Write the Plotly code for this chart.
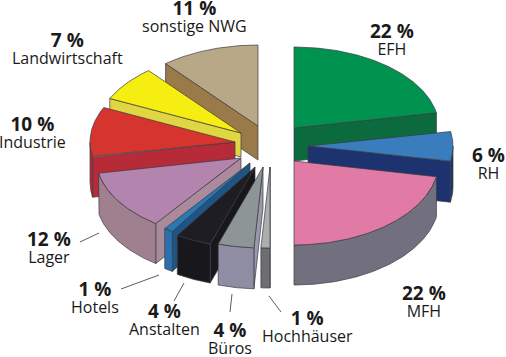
import numpy as np
import plotly.graph_objects as go

# Data
categories = ["EFH", "RH", "MFH", "Hochhäuser", "Büros", "Anstalten", "Hotels",
              "Lager", "Industrie", "Landwirtschaft", "sonstige NWG"]
shares = [22, 6, 22, 1, 4, 4, 1, 12, 10, 7, 11]

# Exploded-pie geometry (wedge tips on the axes, perspective radii, extrusion)
tip_x = [294, 308, 294, 270, 263, 255, 250, 241, 235, 241, 258]
tip_y = [128, 146, 161, 167, 167, 167, 163, 158, 142, 133, 126]
radius_y = [81, 81, 84, 81, 81, 81, 81, 81, 81, 81, 81]
depth = [33, 41, 40, 40, 41, 39, 40, 40, 40, 24, 34]
RADIUS_X = 145

# Colours
top_col = ["#00934f", "#3a7dbd", "#e27aa6", "#a9aeae", "#8e9597", "#1d1d23", "#2c77b6",
           "#b284ae", "#d5342f", "#f5ee10", "#b9a888"]
arc_col = ["#0c6b3e", "#1c3370", "#72707f", "#6e6e70", "#8f8da3", "#17171c", "#2a70ae",
           "#a0808f", "#b72b38", "#e0d642", "#9a7a48"]
face_col = ["#0c6b3e", "#1c3370", "#72707f", "#6e6e70", "#9a98ad", "#17171c", "#1d5585",
            "#ab8a9b", "#b72b38", "#e0d642", "#9a7a48"]
EDGE = "#3a3a40"

# Label block centres (x, y)
label_pos = [(392, 39), (488, 163), (424, 301), (307, 326), (230, 338), (164, 319),
             (95, 297), (49, 247), (32, 132), (67, 48), (194, 16)]
leaders = [(80, 242, 99, 233), (121, 289, 159, 275), (174, 301, 184, 283),
           (230, 312, 232, 294), (281, 312, 269, 296)]

ends = np.cumsum(shares) / sum(shares) * 360
starts = np.concatenate([[0], ends[:-1]])


def arc(i, a0, a1):
    t = np.radians(np.linspace(a0, a1, max(int(abs(a1 - a0) * 2), 2)))
    return tip_x[i] + RADIUS_X * np.sin(t), tip_y[i] - radius_y[i] * np.cos(t)


def poly(fig, x, y, col):
    fig.add_trace(go.Scatter(x=np.r_[x, x[0]], y=np.r_[y, y[0]], mode="lines", fill="toself",
                             fillcolor=col, line=dict(color=EDGE, width=0.7),
                             hoverinfo="skip", showlegend=False))


fig = go.Figure()
for i in [0, 1, 2, 10, 9, 8, 7, 6, 5, 4, 3]:
    a0, a1 = starts[i], ends[i]
    d = depth[i]
    # visible radial cut face
    ang = a1 if a1 < 180 else (a0 if a0 >= 180 else None)
    if ang is not None and a1 != 180:
        x, y = arc(i, ang, ang)
        ox, oy = x[0], y[0]
        poly(fig, np.array([tip_x[i], ox, ox, tip_x[i]]),
             np.array([tip_y[i], oy, oy + d, tip_y[i] + d]), face_col[i])
    # visible outer wall
    b0, b1 = max(a0, 90), min(a1, 270)
    if b1 > b0:
        x, y = arc(i, b0, b1)
        poly(fig, np.r_[x, x[::-1]], np.r_[y, y[::-1] + d], arc_col[i])
    # top face
    x, y = arc(i, a0, a1)
    poly(fig, np.r_[tip_x[i], x], np.r_[tip_y[i], y], top_col[i])

for x0, y0, x1, y1 in leaders:
    fig.add_trace(go.Scatter(x=[x0, x1], y=[y0, y1], mode="lines",
                             line=dict(color="#333333", width=0.8),
                             hoverinfo="skip", showlegend=False))

FONT = "Open Sans"
for i, (px, py) in enumerate(label_pos):
    fig.add_annotation(x=px, y=py, showarrow=False, align="center",
                       text=(f'<span style="font-size:19px"><b>{shares[i]} %</b></span><br>'
                             f'<span style="font-size:16px">{categories[i]}</span>'),
                       font=dict(family=FONT, size=13, color="#1a1a1a"))

fig.update_xaxes(range=[0, 506], visible=False, fixedrange=True)
fig.update_yaxes(range=[357, 0], visible=False, fixedrange=True)
fig.update_layout(width=506, height=357, margin=dict(l=0, r=0, t=0, b=0),
                  paper_bgcolor="white", plot_bgcolor="white")
fig.write_html("out.html", config={"displayModeBar": False},
               post_script="document.body.style.margin='0';document.body.style.overflow='hidden';")
